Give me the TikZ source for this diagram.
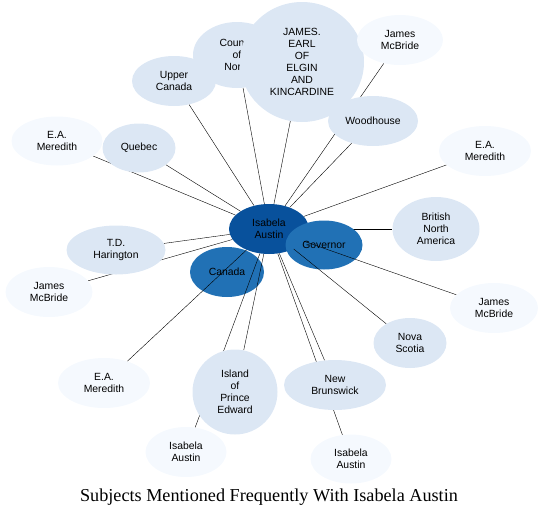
\documentclass[tikz,border=0pt]{standalone}
\usepackage{fontspec}
\setmainfont{Liberation Sans}
\newfontfamily\captionfont{Liberation Serif}
\usetikzlibrary{shapes.geometric}
\pgfdeclarelayer{back}
\pgfdeclarelayer{hubs}
\pgfdeclarelayer{edges}
\pgfsetlayers{back,hubs,edges,main}
\definecolor{hubblue}{RGB}{8,81,156}
\definecolor{midblue}{RGB}{33,113,181}
\definecolor{paleblue}{RGB}{220,231,244}
\definecolor{faintblue}{RGB}{245,249,254}

\begin{document}
\begin{tikzpicture}[x=1pt, y=-1pt, line width=1.35pt, main/.style = {ellipse, inner sep=0pt, align=center, font=\fontsize{10.4}{12}\selectfont}, hub/.style = {main, fill=hubblue}, mid/.style = {main, fill=midblue}, pale/.style = {main, fill=paleblue}, faint/.style = {main, fill=faintblue}, sz/.style 2 args = {minimum width=#1pt, minimum height=#2pt}]
\useasboundingbox (0,0) rectangle (543,520);
\begin{pgfonlayer}{back}
    \node[hub, sz={80}{50}] (1) at (269,229) {Isabela\\Austin};
    \node[mid, sz={74}{50}] (3) at (227,272) {Canada};
\end{pgfonlayer}
\begin{pgfonlayer}{hubs}
    \node[mid, sz={77}{49}] (2) at (324,245) {Governor};
\end{pgfonlayer}
    \node[pale, sz={88}{66}] (4) at (237,55) {Council\\of\\North};
    \node[pale, sz={124}{120}] (5) at (302,62) {JAMES.\\EARL\\OF\\ELGIN\\AND\\KINCARDINE};
    \node[pale, sz={84}{50}] (6) at (174,81) {Upper\\Canada};
    \node[faint, sz={86}{50}] (7) at (400,40) {James\\McBride};
    \node[pale, sz={90}{50}] (8) at (373,121) {Woodhouse};
    \node[faint, sz={91}{49}] (9) at (57,141) {E.A.\\Meredith};
    \node[pale, sz={73}{49}] (10) at (139,148) {Quebec};
    \node[faint, sz={92}{50}] (11) at (485,151) {E.A.\\Meredith};
    \node[pale, sz={87}{64}] (12) at (436,229) {British\\North\\America};
    \node[pale, sz={99}{49}] (13) at (116,250) {T.D.\\Harington};
    \node[faint, sz={87}{50}] (14) at (49,292) {James\\McBride};
    \node[faint, sz={88}{50}] (15) at (494,308) {James\\McBride};
    \node[pale, sz={73}{50}] (16) at (410,343) {Nova\\Scotia};
    \node[faint, sz={92}{50}] (17) at (104,383) {E.A.\\Meredith};
    \node[faint, sz={81}{50}] (20) at (186,452) {Isabela\\Austin};
    \node[pale, sz={85}{85}] (18) at (235,392) {Island\\of\\Prince\\Edward};
    \node[pale, sz={102}{50}] (19) at (335,385) {New\\Brunswick};
    \node[faint, sz={81}{49}] (21) at (351,459) {Isabela\\Austin};
    \node[font=\captionfont\fontsize{18.2}{21}\selectfont] (title) at (269,497) {Subjects Mentioned Frequently With Isabela Austin};
% the line to British North America runs under Governor
\begin{pgfonlayer}{back}
    \draw (1) -- (12);
\end{pgfonlayer}
\begin{pgfonlayer}{edges}
    \draw (1) -- (4);
    \draw (1) -- (5);
    \draw (1) -- (6);
    \draw (1) -- (7);
    \draw (1) -- (8);
    \draw (1) -- (9);
    \draw (1) -- (10);
    \draw (1) -- (11);
    \draw (1) -- (13);
    \draw (1) -- (14);
    \draw (1) -- (15);
    \draw (1) -- (16);
    \draw (1) -- (17);
    \draw (1) -- (18);
    \draw (1) -- (19);
    \draw (1) -- (20);
    \draw (1) -- (21);
\end{pgfonlayer}
\end{tikzpicture}
\end{document}
